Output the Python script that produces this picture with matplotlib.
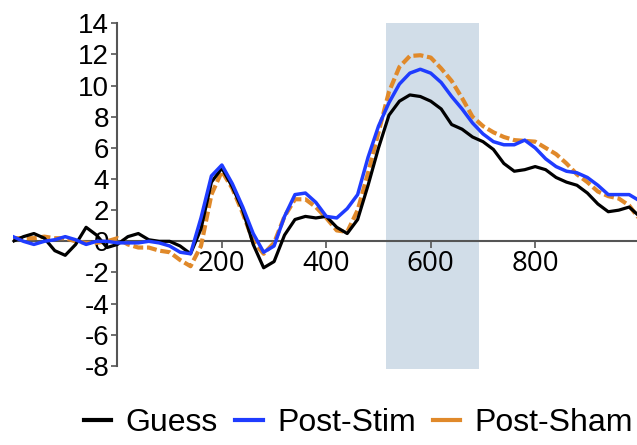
import numpy as np
import matplotlib
matplotlib.use("Agg")
import matplotlib.pyplot as plt
from matplotlib.lines import Line2D

plt.rcParams['axes.unicode_minus'] = False

# time axis (ms) and the three ERP curves (microvolts)
t = np.arange(-200, 1001, 20)

guess = [0.0, 0.3, 0.5, 0.2, -0.6, -0.9, -0.2, 0.9, 0.4, -0.4,
         -0.2, 0.3, 0.5, 0.1, 0.0, 0.0, -0.3, -0.8, 0.8, 3.8,
         4.7, 3.5, 2.0, -0.2, -1.7, -1.3, 0.4, 1.4, 1.6, 1.5,
         1.6, 0.9, 0.5, 1.4, 3.6, 6.0, 8.1, 9.0, 9.4, 9.3,
         9.0, 8.5, 7.5, 7.2, 6.7, 6.4, 5.9, 5.0, 4.5, 4.6,
         4.8, 4.6, 4.1, 3.8, 3.6, 3.1, 2.4, 1.9, 2.0, 2.2, 1.6]

post_stim = [0.3, 0.0, -0.2, 0.0, 0.1, 0.3, 0.1, -0.2, 0.0, 0.0,
             -0.1, -0.1, -0.1, 0.0, -0.1, -0.3, -0.7, -0.8, 1.5, 4.2,
             4.9, 3.7, 2.2, 0.5, -0.7, -0.3, 1.6, 3.0, 3.1, 2.5,
             1.6, 1.5, 2.1, 3.0, 5.4, 7.4, 8.9, 10.1, 10.8, 11.05,
             10.8, 10.2, 9.3, 8.5, 7.6, 6.9, 6.4, 6.2, 6.2, 6.5,
             6.0, 5.3, 4.8, 4.5, 4.4, 4.1, 3.6, 3.0, 3.0, 3.0, 2.6]

post_sham = [0.2, 0.2, 0.2, 0.3, 0.2, 0.2, 0.0, -0.1, -0.1, 0.0,
             0.2, -0.2, -0.4, -0.4, -0.6, -0.7, -1.2, -1.6, -0.3, 3.0,
             4.5, 3.4, 1.8, 0.0, -0.8, -0.1, 1.6, 2.7, 2.7, 2.2,
             1.5, 0.7, 0.6, 2.0, 4.4, 7.0, 9.6, 11.2, 11.9, 11.95,
             11.8, 11.1, 10.3, 9.2, 8.0, 7.4, 7.0, 6.7, 6.5, 6.45,
             6.4, 6.0, 5.6, 5.0, 4.3, 3.8, 3.2, 2.9, 2.75, 2.3, 1.4]

labels = ['Guess', 'Post-Stim', 'Post-Sham']
colors = ['#000000', '#1f3cff', '#e0892a']

win_start, win_end = 515, 692
yticks = np.arange(-8, 15, 2)
xticks = [200, 400, 600, 800]

fig = plt.figure(figsize=(6.37, 4.45), dpi=100)
ax = fig.add_axes([13/637, 0.1708, 1 - 13/637, 0.9546 - 0.1708])

ax.fill_between([win_start, win_end], -8.2, 14, color='#d1dde8', lw=0, zorder=0)

ax.plot(t, post_sham, color=colors[2], lw=3, dashes=(2.4, 0.9), zorder=2)
ax.plot(t, guess, color=colors[0], lw=2.3, zorder=3)
ax.plot(t, post_stim, color=colors[1], lw=2.5, zorder=4)

ax.set_xlim(-200, 995)
ax.set_ylim(-8.2, 14.2)

for s in ['top', 'right']:
    ax.spines[s].set_visible(False)
ax.spines['left'].set_position(('data', 0))
ax.spines['bottom'].set_position(('data', 0))
ax.spines['left'].set_bounds(-8, 14)
for s in ['left', 'bottom']:
    ax.spines[s].set_color('#555555')
    ax.spines[s].set_linewidth(1.5)
    ax.spines[s].set_zorder(1)

ax.set_yticks(yticks)
ax.set_yticklabels([str(v) for v in yticks], fontsize=20, family='Liberation Sans')
ax.set_xticks(xticks)
ax.set_xticklabels([str(v) for v in xticks], fontsize=20, family='Open Sans')
ax.tick_params(axis='y', length=4, width=1.2, color='#555555', pad=2)
ax.tick_params(axis='x', length=5, width=1.2, color='#555555', pad=1)

handles = [Line2D([], [], color=c, lw=3) for c in colors]
fig.legend(handles, labels, loc='center', bbox_to_anchor=(0.563, 0.049), ncol=3,
           frameon=False, handlelength=0.85, handletextpad=0.45, columnspacing=0.55,
           prop={'family': 'Liberation Sans', 'size': 23})

fig.savefig('out.png', dpi=100)
